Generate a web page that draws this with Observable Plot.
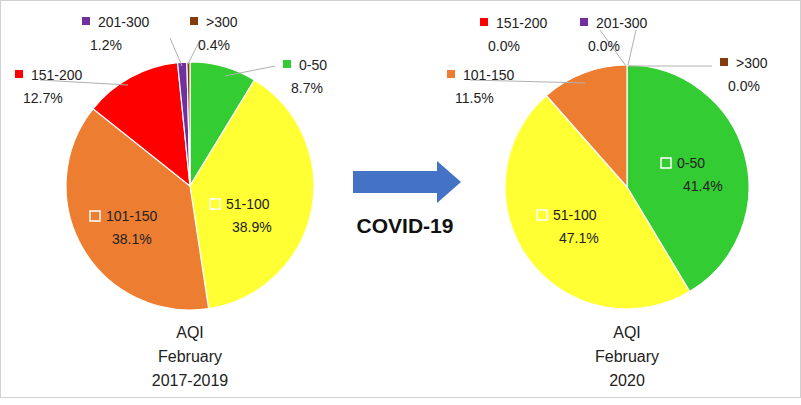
<!DOCTYPE html>
<html><head><meta charset="utf-8">
<script src="https://cdn.jsdelivr.net/npm/d3@7"></script>
<script src="https://cdn.jsdelivr.net/npm/@observablehq/plot@0.6"></script>
<style>body{margin:0;background:#fff}svg{display:block}</style>
</head><body><div id="c"></div>
<script>
const categories = ["0-50","51-100","101-150","151-200","201-300",">300"];
const colors = ["#33cc33","#ffff33","#ed7d31","#ff0000","#7030a0","#843c0c"];
const before = [8.7,38.9,38.1,12.7,1.2,0.4];
const after = [41.4,47.1,11.5,0.0,0.0,0.0];
const titleBefore = ["AQI","February","2017-2019"];
const titleAfter = ["AQI","February","2020"];

const pies = [
  {cx:190, cy:186, r:124, vals:before, title:titleBefore,
   labels:[[283,60,"out"],[210,199,"in"],[90,211,"in"],[15,70,"out"],[82,17,"out"],[190,17,"out"]],
   lines:[[275,66,225,76],null,null,[40,80,128,85],[170,38,182,66],[200,40,188,64]]},
  {cx:627, cy:187, r:122, vals:after, title:titleAfter,
   labels:[[661,158,"in"],[537,210,"in"],[447,70,"out"],[480,18,"out"],[580,18,"out"],[720,58,"out"]],
   lines:[null,null,[470,80,585,83],[600,30,626,66],[636,30,628,65],[712,66,628,66]]}
];

function pieMark(p){
  return (index, scales) => {
    const g = d3.create("svg:g").attr("text-anchor","start");
    const X = scales.x, Y = scales.y;
    const arcs = d3.pie().sort(null).value(d=>d)(p.vals);
    const arc = d3.arc().innerRadius(0).outerRadius(p.r);
    const gp = g.append("g").attr("transform",`translate(${X(p.cx)},${Y(p.cy)})`);
    arcs.forEach((a,i)=>{ if(a.value>0) gp.append("path").attr("d",arc(a)).attr("fill",colors[i]).attr("stroke","#fff").attr("stroke-width",1.2);});
    p.lines.forEach(l=>{ if(l) g.append("line").attr("x1",X(l[0])).attr("y1",Y(l[1])).attr("x2",X(l[2])).attr("y2",Y(l[3])).attr("stroke","#b0b0b0").attr("stroke-width",1);});
    p.labels.forEach((L,i)=>{
      const [sx,sy,kind]=L;
      const sq=g.append("rect").attr("x",X(sx)).attr("y",Y(sy)).attr("width",kind==="in"?10:8).attr("height",kind==="in"?10:8);
      if(kind==="in") sq.attr("fill","none").attr("stroke","#fff").attr("stroke-width",1.5); else sq.attr("fill",colors[i]);
      const t=g.append("text").attr("text-anchor","start").attr("font-family","Liberation Sans, Arial").attr("font-size",14).attr("fill","#222");
      t.append("tspan").attr("x",X(sx+16)).attr("y",Y(sy+10)).text(categories[i]);
      t.append("tspan").attr("x",X(sx+(kind==="in"?22:8))).attr("y",Y(sy+33)).text(p.vals[i].toFixed(1)+"%");
    });
    p.title.forEach((s,k)=>g.append("text").attr("x",X(p.cx)).attr("y",Y(338+k*24)).attr("text-anchor","middle").attr("font-family","Liberation Sans, Arial").attr("font-size",16).attr("fill","#222").text(s));
    return g.node();
  };
}
const arrowMark = (index, scales) => {
  const X=scales.x,Y=scales.y;
  const g=d3.create("svg:g");
  g.append("path").attr("d",`M${X(353)},${Y(171)}H${X(437)}V${Y(161)}L${X(461)},${Y(182)}L${X(437)},${Y(203)}V${Y(193)}H${X(353)}Z`).attr("fill","#4472c4");
  g.append("text").attr("x",X(405)).attr("y",Y(233)).attr("text-anchor","middle").attr("font-family","Liberation Sans, Arial").attr("font-weight","bold").attr("font-size",21).attr("fill","#111").text("COVID-19");
  g.append("rect").attr("x",0.5).attr("y",0.5).attr("width",800).attr("height",397).attr("fill","none").attr("stroke","#d0d0d0");
  return g.node();
};
const chart = Plot.plot({
  width:801, height:405, margin:0,
  x:{domain:[0,801],range:[0,801],axis:null},
  y:{domain:[0,405],range:[0,405],axis:null},
  marks:[pieMark(pies[0]), pieMark(pies[1]), arrowMark]
});
document.getElementById("c").appendChild(chart);
</script></body></html>
